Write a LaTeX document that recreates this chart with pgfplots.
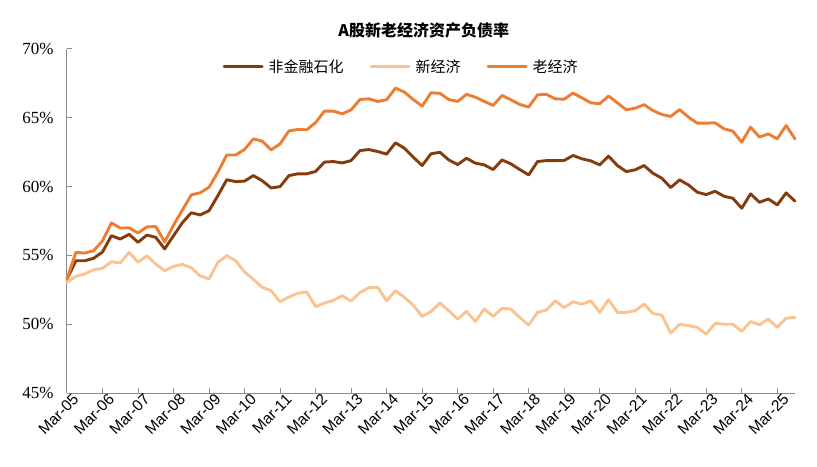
\documentclass[border=0pt]{standalone}
\usepackage{pgfplots}
\pgfplotsset{compat=1.18}
\usepackage{pgfplotstable}
\usepackage{fontspec}
\setmainfont{Liberation Sans}
\newfontfamily\cjk{Noto Sans CJK SC}
\newfontfamily\tnr{Liberation Serif}
\definecolor{cDark}{HTML}{843C0C}
\definecolor{cLight}{HTML}{FBC392}
\definecolor{cOrange}{HTML}{ED7D31}
\definecolor{cAxis}{HTML}{8C8C8C}
\pgfplotstableread{
i nonfin new old
0 53.28 53.04 53.28
1 54.61 53.48 55.22
2 54.61 53.65 55.17
3 54.79 53.96 55.34
4 55.25 54.06 56.05
5 56.43 54.54 57.36
6 56.19 54.45 56.99
7 56.53 55.22 57.00
8 55.95 54.50 56.63
9 56.48 54.98 57.07
10 56.31 54.37 57.10
11 55.47 53.89 55.98
12 56.43 54.20 57.20
13 57.38 54.35 58.30
14 58.10 54.10 59.40
15 57.94 53.50 59.55
16 58.25 53.30 59.95
17 59.35 54.50 61.05
18 60.50 54.98 62.30
19 60.36 54.61 62.30
20 60.40 53.80 62.70
21 60.80 53.25 63.47
22 60.42 52.68 63.30
23 59.90 52.43 62.67
24 60.00 51.63 63.10
25 60.80 51.98 64.05
26 60.93 52.25 64.15
27 60.93 52.35 64.13
28 61.10 51.28 64.65
29 61.78 51.54 65.49
30 61.82 51.73 65.49
31 61.72 52.07 65.29
32 61.89 51.68 65.58
33 62.62 52.31 66.33
34 62.69 52.65 66.38
35 62.55 52.68 66.19
36 62.36 51.70 66.31
37 63.18 52.43 67.16
38 62.79 51.95 66.87
39 62.14 51.39 66.33
40 61.53 50.57 65.85
41 62.38 50.91 66.82
42 62.50 51.54 66.78
43 61.94 50.98 66.33
44 61.60 50.37 66.19
45 62.06 50.93 66.70
46 61.70 50.20 66.50
47 61.58 51.10 66.19
48 61.24 50.57 65.90
49 61.94 51.15 66.62
50 61.65 51.10 66.31
51 61.24 50.49 65.97
52 60.85 49.93 65.78
53 61.82 50.86 66.67
54 61.89 51.03 66.70
55 61.89 51.70 66.38
56 61.90 51.20 66.35
57 62.26 51.63 66.80
58 62.02 51.46 66.45
59 61.87 51.70 66.09
60 61.58 50.86 66.02
61 62.21 51.78 66.58
62 61.53 50.86 66.09
63 61.09 50.86 65.58
64 61.22 50.98 65.70
65 61.53 51.46 65.95
66 60.97 50.78 65.53
67 60.61 50.66 65.24
68 59.93 49.35 65.10
69 60.49 50.00 65.60
70 60.12 49.90 65.05
71 59.59 49.77 64.61
72 59.42 49.28 64.61
73 59.66 50.06 64.64
74 59.30 50.00 64.20
75 59.15 50.00 64.03
76 58.43 49.48 63.23
77 59.47 50.20 64.32
78 58.86 49.96 63.60
79 59.10 50.37 63.83
80 58.67 49.77 63.47
81 59.54 50.44 64.44
82 58.94 50.49 63.47
}\datatable
\begin{document}
\begin{tikzpicture}
\begin{axis}[
  at={(0,0)}, anchor=south west,
  scale only axis, width=728bp, height=344bp,
  xmin=0, xmax=82, ymin=45, ymax=70,
  axis lines*=left,
  axis line style={cAxis, line width=1bp},
  major tick style={cAxis, line width=1bp},
  major tick length=5bp,
  tick align=inside,
  xtick={0,4,...,80},
  xticklabels={Mar-05,Mar-06,Mar-07,Mar-08,Mar-09,Mar-10,Mar-11,Mar-12,Mar-13,Mar-14,Mar-15,Mar-16,Mar-17,Mar-18,Mar-19,Mar-20,Mar-21,Mar-22,Mar-23,Mar-24,Mar-25},
  xticklabel style={font=\fontsize{15.5bp}{17bp}\selectfont, rotate=45, anchor=east, xshift=7bp, yshift=-9bp},
  ytick={45,50,...,70},
  yticklabel={\pgfmathprintnumber{\tick}\%},
  yticklabel style={font=\tnr\fontsize{17bp}{19bp}\selectfont, xshift=-10bp},
  /pgf/number format/assume math mode=true,
  legend style={draw=none, fill=none, at={(0.459,0.948)}, anchor=center,
    font=\cjk\fontsize{15bp}{17bp}\selectfont, legend columns=3,
    /tikz/every odd column/.style={column sep=3bp},
    /tikz/every even column/.style={column sep=24bp}},
  legend image code/.code={\draw[#1, line width=3bp] (0bp,0bp) -- (38bp,0bp);},
  every axis plot/.append style={line width=2.9bp, line join=round, line cap=round},
  clip=false,
]
\addplot[cDark, no markers] table[x=i, y=nonfin] {\datatable};
\addlegendentry{非金融石化}
\addplot[cLight, no markers] table[x=i, y=new] {\datatable};
\addlegendentry{新经济}
\addplot[cOrange, no markers] table[x=i, y=old] {\datatable};
\addlegendentry{老经济}
\node[font=\cjk\bfseries\fontsize{16bp}{18bp}\selectfont, anchor=center] at (rel axis cs:0.49,1.055) {A股新老经济资产负债率};
\end{axis}
\pgfresetboundingbox
\path[use as bounding box] (-67bp,-74bp) rectangle (750bp,393bp);
\end{tikzpicture}
\end{document}
